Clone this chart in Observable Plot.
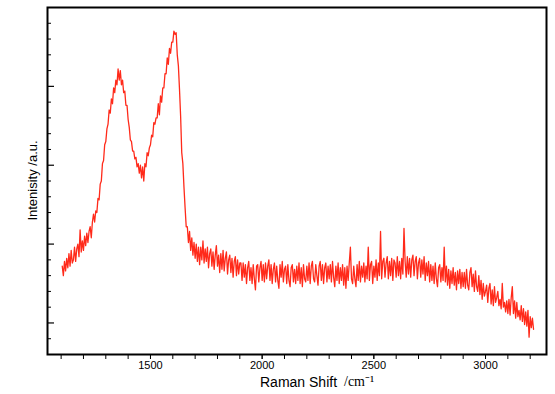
<!DOCTYPE html>
<html><head><meta charset="utf-8">
<script src="https://cdn.jsdelivr.net/npm/d3@7"></script>
<script src="https://cdn.jsdelivr.net/npm/@observablehq/plot@0.6"></script>
<style>body{margin:0;background:#fff;}</style>
</head><body><div id="chart"></div>
<script>
// Raman spectrum sampled every 5 cm^-1 starting at 1105 cm^-1 (values in arbitrary units)
const shiftStart = 1105, shiftStep = 5;
const intensity = [
5.6,5.0,5.9,5.3,6.1,5.5,6.4,5.6,6.6,5.8,
6.0,6.8,5.9,6.7,7.0,6.2,7.9,6.5,7.2,6.6,
7.5,6.9,7.7,7.1,7.8,8.1,7.4,8.4,8.9,8.4,
9.1,9.0,9.9,9.8,10.8,11.0,12.1,12.3,13.3,13.5,
14.3,14.6,15.5,15.3,16.2,15.9,16.9,16.6,17.4,17.1,
18.1,17.4,18.0,17.1,17.4,16.6,16.7,15.8,15.8,14.9,
14.4,13.6,13.5,12.9,12.9,12.4,12.5,11.9,12.1,11.5,
12.0,11.2,11.9,11.0,12.1,11.9,12.8,12.6,13.1,13.3,
13.9,13.8,14.7,14.6,15.0,15.0,15.9,15.2,16.4,16.0,
16.9,16.9,17.8,17.8,18.8,18.4,19.4,19.1,19.8,19.8,
20.5,20.3,20.4,19.0,18.3,16.8,15.1,12.8,12.1,10.6,
9.3,8.1,8.1,7.1,7.8,6.6,7.4,6.3,7.1,6.1,
7.0,5.9,6.8,5.7,6.8,6.0,7.2,5.8,6.7,5.9,
6.8,5.5,6.4,6.7,5.6,6.5,5.4,6.3,6.9,5.6,
6.3,5.2,6.4,5.4,6.6,5.3,6.1,6.5,5.1,6.0,
6.3,5.2,6.1,4.9,5.9,6.2,5.0,6.0,5.1,5.8,
5.8,4.7,5.8,4.9,5.7,4.5,5.5,5.9,4.7,5.5,
4.5,5.7,4.8,4.1,5.6,5.7,4.6,5.5,5.9,4.7,
5.7,4.6,5.8,4.8,5.6,6.0,4.7,5.7,4.5,5.4,
5.8,4.6,5.6,4.7,4.2,5.7,4.9,5.9,4.6,5.4,
5.6,4.5,5.7,4.7,4.3,5.5,5.7,4.6,5.4,4.5,
5.6,4.7,5.8,4.5,5.5,4.3,5.7,4.8,4.6,5.6,
4.7,5.8,4.5,5.6,5.9,4.8,4.6,5.7,5.0,4.4,
5.6,5.9,4.7,5.7,4.5,5.5,5.8,4.6,5.6,4.8,
5.7,4.6,5.9,4.9,4.3,5.6,4.7,5.8,4.5,5.5,
4.7,5.7,4.4,5.5,4.2,5.6,4.7,5.8,6.8,4.8,
4.5,5.6,4.8,4.3,5.7,4.7,5.9,4.6,5.6,4.9,
5.8,4.6,5.6,4.8,6.8,4.7,5.7,5.9,4.5,5.6,
4.9,6.0,4.7,5.8,5.0,7.8,4.8,5.9,6.1,4.9,
5.8,6.2,4.8,5.9,5.0,6.1,4.7,6.0,5.8,4.9,
6.2,5.0,5.9,4.8,6.1,5.1,8.0,5.9,4.9,6.2,
5.1,6.1,4.9,6.0,6.3,5.0,5.9,6.2,4.8,5.8,
6.1,4.9,6.0,5.1,6.2,4.7,5.8,5.0,5.9,4.6,
5.7,4.7,5.6,4.5,5.8,4.8,4.3,5.5,5.7,4.6,
5.5,4.7,6.8,4.6,5.6,4.4,5.4,4.2,5.3,4.5,
5.5,4.4,5.2,4.1,5.3,4.5,5.4,4.2,5.2,4.3,
5.2,4.2,5.4,4.4,4.1,5.2,5.5,4.3,5.1,4.0,
5.3,4.3,4.0,5.0,3.8,4.7,3.5,4.5,3.7,4.0,
4.4,3.3,4.2,4.5,3.2,4.1,3.1,4.3,3.3,3.6,
4.0,3.1,3.5,2.9,4.5,3.0,3.3,2.7,3.4,2.6,
3.5,2.5,3.6,4.3,2.6,3.4,2.3,3.3,2.4,2.8,
2.2,3.1,2.1,2.9,1.9,2.7,1.8,2.8,1.1,2.4,
1.7,2.3,1.6
];
const xMajorTicks = [1500, 2000, 2500, 3000];
const xMinorTicks = [1100,1200,1300,1400,1500,1600,1700,1800,1900,2000,2100,2200,2300,2400,2500,2600,2700,2800,2900,3000,3100,3200];
const yMajorTicks = [2, 7, 12, 17];
const yMinorTicks = [1,3,4,5,6,8,9,10,11,13,14,15,16,18,19,20,21];
const xLabel = "Raman Shift";
const xUnit = "/cm\u207B\u00B9";
const yLabel = "Intenisity /a.u.";

const data = intensity.map((v, i) => ({shift: shiftStart + i * shiftStep, intensity: v}));

const W = 555, H = 394, mL = 47, mR = 9, mT = 7, mB = 40;
const innerW = W - mL - mR;

const chart = Plot.plot({
  width: W, height: H,
  marginLeft: mL, marginRight: mR, marginTop: mT, marginBottom: mB,
  x: {domain: [1039, 3273]},
  y: {domain: [0, 22], axis: null},
  style: {fontFamily: "Liberation Sans, Arial, sans-serif", background: "white", color: "black"},
  marks: [
    Plot.axisX(xMinorTicks, {tickSize: 5, tickFormat: () => "", label: null, strokeWidth: 1}),
    Plot.axisX(xMajorTicks, {tickSize: 5, tickPadding: 2, tickFormat: d3.format("d"), fontSize: 11, label: null}),
    Plot.tickY(yMajorTicks, {y: d => d, insetRight: innerW - 7, stroke: "black", strokeWidth: 1.2}),
    Plot.tickY(yMinorTicks, {y: d => d, insetRight: innerW - 4, stroke: "black", strokeWidth: 1}),
    Plot.line(data, {x: "shift", y: "intensity", stroke: "#ff2a1a", strokeWidth: 1.3}),
    Plot.frame({stroke: "black", strokeWidth: 2}),
    Plot.text([xLabel], {text: d => d, frameAnchor: "bottom", dx: 1.5, dy: 28, fontSize: 14, lineAnchor: "middle"}),
    Plot.text([xUnit], {text: d => d, frameAnchor: "bottom", dx: 47, dy: 27, fontSize: 14, textAnchor: "start", lineAnchor: "middle", fontFamily: "Liberation Serif, Times New Roman, serif"})
  ]
});
d3.select(chart).append("text")
  .attr("transform", `translate(${32},${(mT + H - mB) / 2}) rotate(-90)`)
  .attr("text-anchor", "middle")
  .attr("dy", "0.35em")
  .attr("font-size", 13)
  .attr("fill", "black")
  .text(yLabel);
document.getElementById("chart").appendChild(chart);
</script>
</body></html>
